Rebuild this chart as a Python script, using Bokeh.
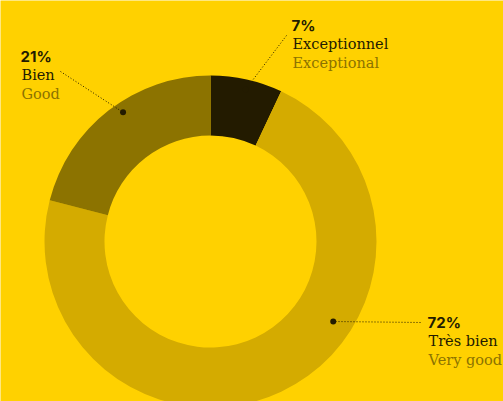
import math
from bokeh.plotting import figure
from bokeh.models import Range1d
from bokeh.core.properties import value
from bokeh.embed import file_html
from bokeh.resources import INLINE

# ---- data ----
categories_fr = ["Exceptionnel", "Très bien", "Bien"]
categories_en = ["Exceptional", "Very good", "Good"]
shares = [7, 72, 21]
pct_labels = ["7%", "72%", "21%"]
colors = ["#231B00", "#D4AB00", "#8C7300"]

BG = "#FFD100"
DARK = "#231B00"
OLIVE = "#8C7300"

W, H = 503, 401
OX, OY = 0, 0              # page offset of the figure
cx_img, cy_img = 210, 241  # donut centre in page pixels

p = figure(width=W, height=H, output_backend="svg", toolbar_location=None,
           x_range=Range1d(OX - cx_img, OX + W - cx_img),
           y_range=Range1d(cy_img - OY - H, cy_img - OY),
           min_border=0)
p.axis.visible = False
p.grid.visible = False
p.outline_line_color = None
p.background_fill_color = BG
p.border_fill_color = BG

total = sum(shares)
cum = 0
starts, ends = [], []
for s in shares:
    starts.append(math.pi / 2 - 2 * math.pi * cum / total)
    cum += s
    ends.append(math.pi / 2 - 2 * math.pi * cum / total)

p.annular_wedge(x=0, y=0, inner_radius=106, outer_radius=166,
                start_angle=starts, end_angle=ends, direction="clock",
                fill_color=colors, line_color=None)

# ---- annotations (label anchors in page px, dot polar positions) ----
label_pos = [(291, 25), (427, 322), (20, 56)]          # x, baseline of % label
dot_polar = [(156, 13.0), (146.5, 123.1), (156, -34.1)]  # radius, deg clockwise from top
line_start = [(286, 35), (420, 322), (60, 71)]

def to_data(x, y):
    return x - cx_img, cy_img - y

for i in range(3):
    r, a = dot_polar[i]
    dx = r * math.sin(math.radians(a))
    dy = r * math.cos(math.radians(a))
    sx, sy = to_data(*line_start[i])
    p.line([sx, dx], [sy, dy], line_color=DARK, line_width=1, line_dash="1 2")
    p.scatter([dx], [dy], size=6, fill_color=DARK, line_color=None)
    lx, ly = to_data(*label_pos[i])
    p.text([lx], [ly], text=[pct_labels[i]], text_font=value("Inter"),
           text_font_style="bold", text_font_size="15px", text_color=DARK,
           text_baseline="alphabetic", text_align="left")
    p.text([lx + 1], [ly - 18], text=[categories_fr[i]], text_font=value("DejaVu Serif"),
           text_font_size="14.5px", text_color=DARK,
           text_baseline="alphabetic", text_align="left")
    p.text([lx + 1], [ly - 37], text=[categories_en[i]], text_font=value("DejaVu Serif"),
           text_font_size="14.5px", text_color=OLIVE,
           text_baseline="alphabetic", text_align="left")

html = file_html(p, INLINE)
html = html.replace("<body>", '<body style="background:%s">' % BG, 1)
open("out.html", "w").write(html)
